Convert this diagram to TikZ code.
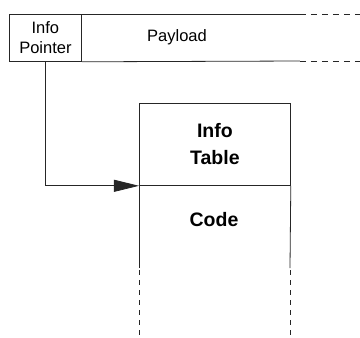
\documentclass[tikz,border=0pt]{standalone}
\usepackage{fontspec}
\setmainfont{Liberation Sans}
\usetikzlibrary{arrows.meta}
\usetikzlibrary{positioning}

\tikzset{
    wall/.style={line width=0.8pt, draw=black!85},
    gap/.style={wall, dash pattern=on 6pt off 5pt},
    field/.style={draw=black!85, line width=0.8pt, rectangle, inner sep=0pt, align=center},
}

\begin{document}
\begin{tikzpicture}[x=1pt, y=-1pt, every node part/.style={align=center}]
    \useasboundingbox (0, 0) rectangle (360, 338);

    % the closure: header word and payload
    \node(ptr) [field, minimum width=72pt, minimum height=47pt, anchor=north west, font=\fontsize{16.5}{20}\selectfont] at (9, 14) {Info\\Pointer};
    \node(pay) [font=\fontsize{16.5}{18}\selectfont] at (177, 37) {Payload};
    \draw[wall] (ptr.north east) -- (300, 14);
    \draw[wall] (ptr.south east) -- (300, 61);
    \draw[gap] (300, 14) -- (360, 14);
    \draw[gap] (300, 61) -- (360, 61);

    % the info table, with the code after it
    \node(tab) [field, minimum width=151pt, minimum height=82pt, anchor=north west, font=\bfseries\fontsize{19.5}{27}\selectfont] at (139, 103) {Info\\Table};
    \node(code) [font=\bfseries\fontsize{19.5}{22}\selectfont] at (214, 220) {Code};
    \draw[wall] (tab.south west) -- (139, 268);
    \draw[wall] (tab.south east) -- (290, 268);
    \draw[gap, dash pattern=on 5pt off 5pt] (139, 270) -- (139, 338);
    \draw[gap, dash pattern=on 5pt off 5pt] (290, 270) -- (290, 338);

    \coordinate(bend) at (ptr.south |- tab.south);
    \draw[wall, -{Triangle[length=25pt, width=12pt]}] (ptr.south) -- (bend) -- (tab.south west);
\end{tikzpicture}
\end{document}
